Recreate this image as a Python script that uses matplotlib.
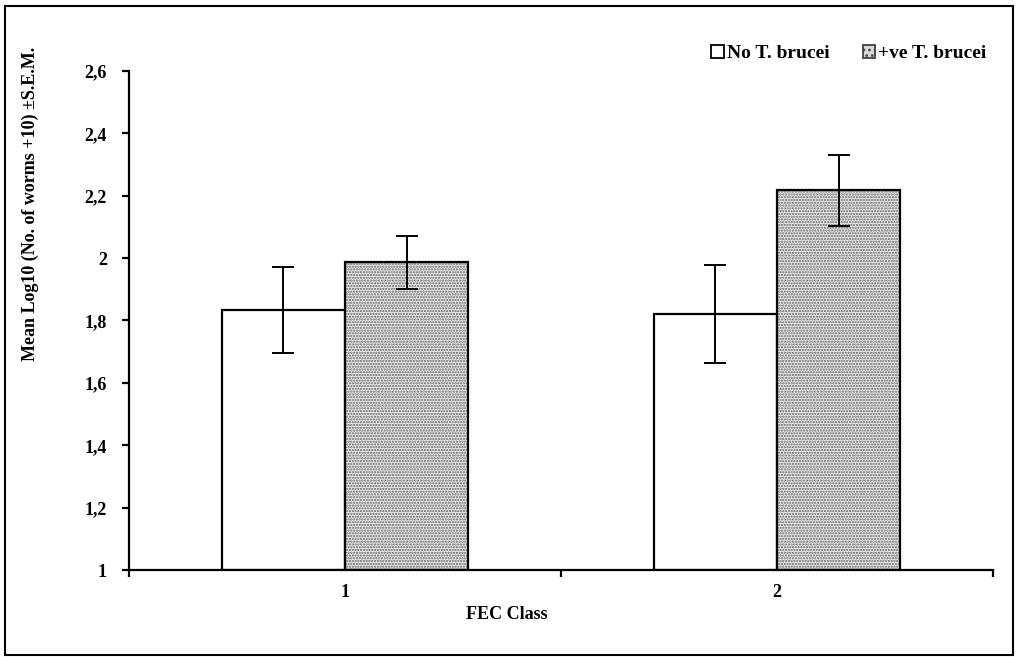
import matplotlib
matplotlib.use("Agg")
import matplotlib.pyplot as plt
from matplotlib.patches import Rectangle, Patch
import numpy as np

# data
fec_classes = ["1", "2"]
no_tb_mean = [1.833, 1.821]
no_tb_sem = [0.138, 0.157]
pos_tb_mean = [1.987, 2.218]
pos_tb_sem = [0.085, 0.114]
series_labels = ["No T. brucei", "+ve T. brucei"]
y_ticks = [1.0, 1.2, 1.4, 1.6, 1.8, 2.0, 2.2, 2.4, 2.6]
y_tick_labels = ["1", "1,2", "1,4", "1,6", "1,8", "2", "2,2", "2,4", "2,6"]

plt.rcParams["font.family"] = ["Liberation Serif", "DejaVu Serif"]
plt.rcParams["font.weight"] = "bold"
plt.rcParams["hatch.linewidth"] = 1.1

fig = plt.figure(figsize=(10.18, 6.57), dpi=100)
ax = fig.add_axes([0.1267, 0.1324, 0.8487, 0.7596])

x = np.arange(len(fec_classes))
w = 0.285
base = 1.0

# white bars
ax.bar(x - w / 2, np.array(no_tb_mean) - base, w, bottom=base,
       facecolor="white", edgecolor="black", linewidth=1.6, zorder=2)
# dotted bars: hatch layer then outline
ax.bar(x + w / 2, np.array(pos_tb_mean) - base, w, bottom=base,
       facecolor="#eeeeee", edgecolor="#606060", hatch="......", linewidth=0, zorder=2)
ax.bar(x + w / 2, np.array(pos_tb_mean) - base, w, bottom=base,
       facecolor="none", edgecolor="black", linewidth=1.6, zorder=3)

ax.errorbar(x - w / 2, no_tb_mean, yerr=no_tb_sem, fmt="none", ecolor="black",
            elinewidth=1.4, capsize=8, capthick=1.4, zorder=4)
ax.errorbar(x + w / 2, pos_tb_mean, yerr=pos_tb_sem, fmt="none", ecolor="black",
            elinewidth=1.4, capsize=8, capthick=1.4, zorder=4)

ax.set_xlim(-0.5, len(fec_classes) - 0.5)
ax.set_ylim(1.0, 2.6)
ax.set_yticks(y_ticks)
ax.set_yticklabels(y_tick_labels, fontsize=13, fontweight="bold")
ax.set_xticks(np.arange(len(fec_classes) + 1) - 0.5)
ax.set_xticklabels([])
ax.set_xticks(x, minor=True)
ax.set_xticklabels(fec_classes, minor=True, fontsize=13, fontweight="bold")
ax.tick_params(axis="x", which="minor", length=0, pad=10)
ax.tick_params(axis="x", which="major", length=5, width=1.6, direction="out")
ax.tick_params(axis="y", length=5, width=1.6, direction="out", pad=11)

for s in ["top", "right"]:
    ax.spines[s].set_visible(False)
for s in ["left", "bottom"]:
    ax.spines[s].set_linewidth(1.6)

fig.text(0.498, 0.065, "FEC Class", ha="center", va="center",
         fontsize=13, fontweight="bold")
fig.text(0.03, 0.69, "Mean Log10 (No. of worms +10) \u00b1S.E.M.", rotation=90,
         ha="center", va="center", fontsize=13, fontweight="bold")

handles = [Patch(facecolor="white", edgecolor="black", linewidth=1.3),
           Patch(facecolor="#d8d8d8", edgecolor="#404040", hatch="...", linewidth=1.3)]
leg = fig.legend(handles, series_labels, loc="center", bbox_to_anchor=(0.834, 0.919),
                 ncol=2, frameon=False, fontsize=14, handlelength=0.65, handleheight=0.65,
                 handletextpad=0.15, columnspacing=1.7)
for t in leg.get_texts():
    t.set_fontweight("bold")

# border around the whole figure
fig.patches.append(Rectangle((0.005, 0.003), 0.99, 0.988, transform=fig.transFigure,
                             fill=False, edgecolor="black", linewidth=1.5))

fig.savefig("out.png", dpi=100)
